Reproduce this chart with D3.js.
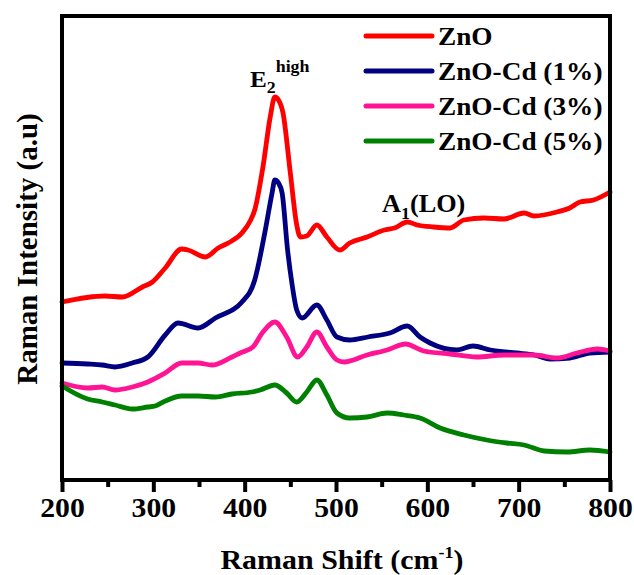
<!DOCTYPE html>
<html lang="en">
<head>
    <meta charset="UTF-8">
    <title>Raman</title>
    <script src="https://cdn.jsdelivr.net/npm/d3@7"></script>
    <style>
        html,
        body {
            margin: 0;
            background: #fff;
        }
        text {
            font-family: "Liberation Serif", "Times New Roman", serif;
            font-weight: bold;
        }
    </style>
</head>
<body>
<svg id="container"></svg>
<script>
    // raman shift (cm-1) and intensity (a.u) for each sample
    const shiftZnO = [200, 247, 266, 288, 299, 313, 331, 338, 357, 371, 382, 397, 406, 411, 420, 428, 433, 437, 442, 450, 457, 461, 468, 479, 490, 504, 515, 534, 553, 564, 578, 589, 607, 625, 640, 662, 684, 706, 717, 742, 756, 767, 782, 800];
    const intZnO = [178, 184, 183, 193, 198, 212, 231, 230, 223, 232, 237, 247, 259, 270, 313, 363, 383, 380, 367, 307, 255, 243, 244, 255, 243, 230, 237, 243, 250, 252, 258, 255, 253, 252, 260, 262, 261, 267, 264, 268, 272, 278, 280, 288];

    const shiftCd1 = [200, 228, 244, 258, 277, 294, 313, 327, 349, 368, 397, 411, 422, 430, 433, 437, 441, 447, 452, 457, 463, 479, 490, 501, 515, 535, 559, 578, 592, 603, 632, 650, 669, 698, 717, 734, 756, 778, 800];
    const intCd1 = [117, 116, 115, 113, 117, 123, 145, 157, 152, 162, 178, 200, 247, 287, 300, 297, 287, 230, 195, 170, 162, 175, 160, 143, 140, 143, 147, 154, 143, 137, 130, 134, 130, 127, 125, 121, 122, 127, 128];

    const shiftCd3 = [200, 228, 244, 258, 277, 294, 313, 331, 349, 364, 386, 395, 409, 420, 433, 446, 458, 468, 479, 490, 501, 509, 534, 556, 576, 596, 625, 654, 684, 717, 742, 764, 786, 800];
    const intCd3 = [97, 92, 93, 90, 93, 98, 107, 117, 117, 115, 123, 127, 133, 148, 158, 143, 123, 133, 148, 133, 120, 118, 125, 130, 136, 129, 126, 123, 125, 125, 122, 127, 131, 129];

    const shiftCd5 = [200, 228, 244, 258, 277, 294, 302, 313, 331, 349, 368, 386, 408, 417, 433, 446, 457, 468, 479, 490, 501, 515, 534, 556, 574, 592, 614, 640, 665, 687, 706, 728, 753, 778, 800];
    const intCd5 = [94, 81, 78, 75, 71, 73, 74, 79, 84, 84, 83, 86, 88, 90, 95, 87, 78, 88, 100, 85, 67, 62, 63, 67, 65, 62, 52, 45, 40, 37, 35, 29, 28, 30, 28];

    const seriesNames = ['ZnO', 'ZnO-Cd (1%)', 'ZnO-Cd (3%)', 'ZnO-Cd (5%)'];
    const seriesColors = ['#ff0000', '#000080', '#ff1493', '#008000'];
    const xTicks = [200, 300, 400, 500, 600, 700, 800];
    const xMinorTicks = [250, 350, 450, 550, 650, 750];

    const series = [
        {name: seriesNames[0], x: shiftZnO, y: intZnO},
        {name: seriesNames[1], x: shiftCd1, y: intCd1},
        {name: seriesNames[2], x: shiftCd3, y: intCd3},
        {name: seriesNames[3], x: shiftCd5, y: intCd5},
    ];

    const width = 634, height = 575;
    const margin = {top: 16, left: 62, bottom: 95, right: 24};

    const svg = d3.select('#container')
        .attr('width', width)
        .attr('height', height);

    const xScale = d3.scaleLinear()
        .domain([200, 800])
        .range([margin.left, width - margin.right]);

    const yScale = d3.scaleLinear()
        .domain([0, 464])
        .range([height - margin.bottom, margin.top]);

    const color = d3.scaleOrdinal().domain(seriesNames).range(seriesColors);

    const line = d3.line()
        .x(d => xScale(d[0]))
        .y(d => yScale(d[1]))
        .curve(d3.curveMonotoneX);

    // curves
    svg.append('g')
        .selectAll('path')
        .data(series)
        .join('path')
        .attr('fill', 'none')
        .attr('stroke', d => color(d.name))
        .attr('stroke-width', 4.8)
        .attr('stroke-linejoin', 'round')
        .attr('stroke-linecap', 'round')
        .attr('d', d => line(d.x.map((v, i) => [v, d.y[i]])));

    const y0 = yScale(0);

    // x axis, major and minor ticks
    const xAxis = d3.axisBottom(xScale).tickValues(xTicks).tickSize(12).tickPadding(6).tickFormat(d3.format('d'));
    const gx = svg.append('g')
        .attr('transform', `translate(0,${y0})`)
        .call(xAxis);
    gx.select('.domain').remove();
    gx.selectAll('line').attr('stroke', '#000').attr('stroke-width', 4);
    gx.selectAll('text')
        .attr('fill', '#000')
        .attr('transform', 'scale(1.1,1)')
        .style('font-size', '27px');

    const gm = svg.append('g')
        .attr('transform', `translate(0,${y0})`)
        .call(d3.axisBottom(xScale).tickValues(xMinorTicks).tickSize(7).tickFormat(''));
    gm.select('.domain').remove();
    gm.selectAll('line').attr('stroke', '#000').attr('stroke-width', 4);

    // frame
    svg.append('rect')
        .attr('x', margin.left)
        .attr('y', margin.top)
        .attr('width', width - margin.left - margin.right)
        .attr('height', y0 - margin.top)
        .attr('fill', 'none')
        .attr('stroke', '#000')
        .attr('stroke-width', 4);

    // axis titles
    const xt = svg.append('text')
        .attr('transform', 'translate(342,569) scale(1.07,1)')
        .attr('text-anchor', 'middle')
        .style('font-size', '28px');
    xt.append('tspan').text('Raman Shift (cm');
    xt.append('tspan').attr('dy', -11).style('font-size', '17px').text('-1');
    xt.append('tspan').attr('dy', 11).text(')');

    svg.append('text')
        .attr('transform', `translate(37,${(margin.top + y0) / 2 + 1}) rotate(-90)`)
        .attr('text-anchor', 'middle')
        .style('font-size', '29px')
        .text('Raman Intensity (a.u)');

    // peak labels
    const e2 = svg.append('text')
        .attr('transform', 'translate(250,87) scale(1.05,1)')
        .style('font-size', '24px');
    e2.append('tspan').text('E');
    e2.append('tspan').attr('dy', 6).style('font-size', '17px').text('2');
    e2.append('tspan').attr('dy', -21).style('font-size', '17px').text('high');

    const a1 = svg.append('text')
        .attr('transform', 'translate(382,212) scale(1.05,1)')
        .style('font-size', '25px');
    a1.append('tspan').text('A');
    a1.append('tspan').attr('dy', 7).style('font-size', '17px').text('1');
    a1.append('tspan').attr('dy', -7).text('(LO)');

    // legend
    const legend = svg.append('g')
        .selectAll('g')
        .data(seriesNames)
        .join('g')
        .attr('transform', (d, i) => `translate(366,${36 + i * 35})`);
    legend.append('line')
        .attr('x2', 66)
        .attr('stroke', d => color(d))
        .attr('stroke-width', 5)
        .attr('stroke-linecap', 'round');
    legend.append('text')
        .attr('transform', 'translate(72,9) scale(1.05,1)')
        .style('font-size', '26px')
        .text(d => d);
</script>
</body>
</html>
